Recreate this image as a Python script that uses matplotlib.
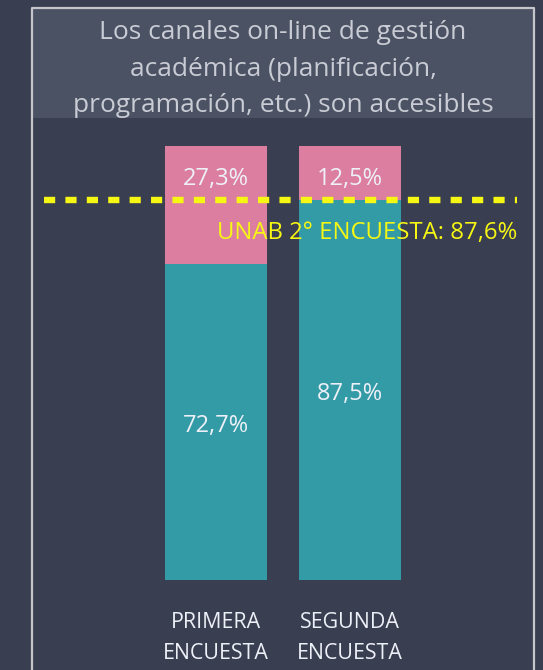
import matplotlib
matplotlib.use('Agg')
import matplotlib.pyplot as plt
from matplotlib.patches import Rectangle
from matplotlib.lines import Line2D

plt.rcParams['font.family'] = ['Open Sans', 'DejaVu Sans']

# datos
categorias = ['PRIMERA\nENCUESTA', 'SEGUNDA\nENCUESTA']
acuerdo = [72.7, 87.5]
desacuerdo = [27.3, 12.5]
etiq_acuerdo = ['72,7%', '87,5%']
etiq_desacuerdo = ['27,3%', '12,5%']
referencia = 87.6
etiq_referencia = 'UNAB 2° ENCUESTA: 87,6%'
titulo = 'Los canales on-line de gestión\nacadémica (planificación,\nprogramación, etc.) son accesibles'

fondo = '#393e50'
teal = '#339ba5'
rosa = '#dc7e9f'
amarillo = '#f7f714'
texto = '#eef0f8'

W, H = 543, 670
fig = plt.figure(figsize=(W / 100, H / 100), dpi=100)
fig.patch.set_facecolor(fondo)

def px(x, y):
    # pixel -> fraccion de figura
    return x / W, 1 - y / H

# panel con borde y caja del titulo
x0, y0 = px(32, 8)
x1, y1 = px(534, 118)
fig.patches.append(Rectangle((x0, y1), x1 - x0, y0 - y1, transform=fig.transFigure,
                             facecolor='#4b5264', edgecolor='none', zorder=0))
borde = '#c4c6cc'
fig.lines.append(Line2D([x0, x0, x1, x1], [0, y0, y0, 0], transform=fig.transFigure,
                        color=borde, lw=1.6, zorder=1))
fig.text((x0 + x1) / 2, px(0, 69)[1], titulo, ha='center', va='center',
         color='#c9ccd4', fontsize=19, linespacing=1.58)

# ejes de las barras
ax_l, ax_b = px(32, 580)
ax_r, ax_t = px(534, 146)
ax = fig.add_axes([ax_l, ax_b, ax_r - ax_l, ax_t - ax_b])
ax.set_facecolor('none')
ax.set_xlim(-1.373, 2.373)
ax.set_ylim(0, 100)
ax.axis('off')

pos = range(len(categorias))
ax.bar(pos, acuerdo, width=0.76, color=teal, zorder=2)
ax.bar(pos, desacuerdo, width=0.76, bottom=acuerdo, color=rosa, zorder=2)

for i in pos:
    ax.annotate(etiq_acuerdo[i], (i, acuerdo[i] / 2), xytext=(0, -4), textcoords='offset pixels',
                ha='center', va='center', color=texto, fontsize=17, zorder=4)
    ax.annotate(etiq_desacuerdo[i], (i, 100), xytext=(0, -33), textcoords='offset pixels',
                ha='center', va='center', color=texto, fontsize=17, zorder=4)
    ax.annotate(categorias[i], (i, 0), xytext=(0, -32), textcoords='offset pixels',
                ha='center', va='top', color=texto, fontsize=15.4, linespacing=1.6,
                annotation_clip=False)

ax.axhline(referencia, xmin=(44 - 32) / 502, xmax=(517 - 32) / 502, color=amarillo,
           lw=4.6, dashes=(1.75, 1.6), zorder=3, clip_on=False)
ax.annotate(etiq_referencia, (2.246, referencia), xytext=(0, -33), textcoords='offset pixels',
            ha='right', va='center', color=amarillo, fontsize=17.2, zorder=5,
            annotation_clip=False)

fig.savefig('out.png', dpi=100, facecolor=fondo)
